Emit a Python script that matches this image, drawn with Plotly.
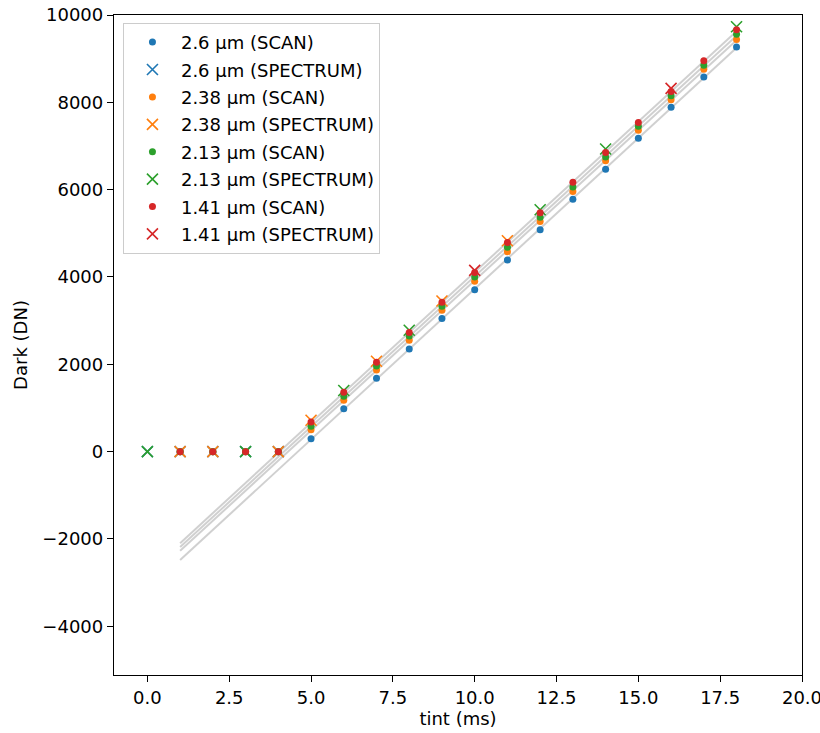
import numpy as np
import plotly.graph_objects as go

# ---- data ----
tint_scan = [1, 2, 3, 4, 5, 6, 7, 8, 9, 10, 11, 12, 13, 14, 15, 16, 17, 18]
scan_2_60 = [0, 0, 0, 0, 295, 980, 1680, 2350, 3050, 3705, 4390, 5080, 5780, 6470, 7180, 7890, 8580, 9270]
scan_2_38 = [0, 0, 0, 0, 500, 1180, 1870, 2550, 3240, 3900, 4580, 5270, 5960, 6660, 7360, 8060, 8760, 9440]
scan_2_13 = [0, 0, 0, 0, 580, 1270, 1960, 2650, 3330, 4000, 4680, 5370, 6060, 6750, 7450, 8150, 8850, 9560]
scan_1_41 = [0, 0, 0, 0, 680, 1360, 2050, 2730, 3420, 4100, 4790, 5470, 6170, 6850, 7540, 8250, 8950, 9660]

tint_spec_2_60 = [0, 1, 2, 3, 4]
spec_2_60 = [0, 0, 0, 0, 0]
tint_spec_2_38 = [1, 2, 4, 5, 7, 9, 11]
spec_2_38 = [0, 0, 0, 720, 2070, 3450, 4830]
tint_spec_2_13 = [0, 3, 6, 8, 12, 14, 18]
spec_2_13 = [0, 0, 1400, 2780, 5540, 6930, 9730]
tint_spec_1_41 = [10, 16]
spec_1_41 = [4150, 8320]

labels = ["2.6 µm", "2.38 µm", "2.13 µm", "1.41 µm"]
colors = ["#1f77b4", "#ff7f0e", "#2ca02c", "#d62728"]
scans = [scan_2_60, scan_2_38, scan_2_13, scan_1_41]
spec_x = [tint_spec_2_60, tint_spec_2_38, tint_spec_2_13, tint_spec_1_41]
spec_y = [spec_2_60, spec_2_38, spec_2_13, spec_1_41]

FIT_MIN_TINT = 5
fit_x = [1, 18]

fig = go.Figure()

# linear fits (gray lines) behind markers
tx = np.array(tint_scan)
for ys in scans:
    y = np.array(ys)
    m = tx >= FIT_MIN_TINT
    b1, b0 = np.polyfit(tx[m], y[m], 1)
    xs = np.array(fit_x)
    fig.add_trace(go.Scatter(x=xs, y=b0 + b1 * xs, mode="lines",
                             line=dict(color="rgba(150,150,150,0.45)", width=2),
                             showlegend=False, hoverinfo="skip"))

for i in range(4):
    fig.add_trace(go.Scatter(x=tint_scan, y=scans[i], mode="markers",
                             name=f"{labels[i]} (SCAN)", legendgroup=f"g{i}a",
                             marker=dict(symbol="circle", size=7, color=colors[i],
                                         line=dict(width=0))))
    fig.add_trace(go.Scatter(x=spec_x[i], y=spec_y[i], mode="markers",
                             name=f"{labels[i]} (SPECTRUM)", legendgroup=f"g{i}b",
                             marker=dict(symbol="x-thin-open", size=11, color=colors[i],
                                         line=dict(width=1.6, color=colors[i]))))

FONT = "DejaVu Sans"
FS = 18
axis_common = dict(showline=True, mirror=True, linecolor="black", linewidth=1.3,
                   ticks="outside", ticklen=6, tickwidth=1.3, tickcolor="black",
                   showgrid=False, zeroline=False, automargin=False,
                   ticklabeloverflow="allow",
                   tickfont=dict(family=FONT, size=FS, color="black"))

fig.update_layout(
    width=820, height=733,
    margin=dict(l=114, r=18, t=15, b=58),
    paper_bgcolor="white", plot_bgcolor="white",
    font=dict(family=FONT, size=FS, color="black"),
    xaxis=dict(range=[-1.02, 20], tickvals=[0, 2.5, 5, 7.5, 10, 12.5, 15, 17.5, 20],
               ticktext=["0.0", "2.5", "5.0", "7.5", "10.0", "12.5", "15.0", "17.5", "20.0"],
               title=dict(text="tint (ms)", font=dict(family=FONT, size=FS), standoff=0),
               **axis_common),
    yaxis=dict(range=[-5115, 10000], tickvals=[-4000, -2000, 0, 2000, 4000, 6000, 8000, 10000],
               ticktext=["\u22124000", "\u22122000", "0", "2000", "4000", "6000", "8000", "10000"],
               title=dict(text="Dark (DN)", font=dict(family=FONT, size=FS), standoff=10),
               **axis_common),
    legend=dict(x=0.013, y=0.988, xanchor="left", yanchor="top",
                bgcolor="rgba(255,255,255,0.8)", bordercolor="#cccccc", borderwidth=1,
                font=dict(family=FONT, size=FS, color="black"),
                tracegroupgap=1, itemwidth=47),
    showlegend=True,
)

# remove the page's default body margin so the figure fills the window exactly
fig.write_html("out.html", config={"displayModeBar": False},
               post_script="document.body.style.margin='0';")
